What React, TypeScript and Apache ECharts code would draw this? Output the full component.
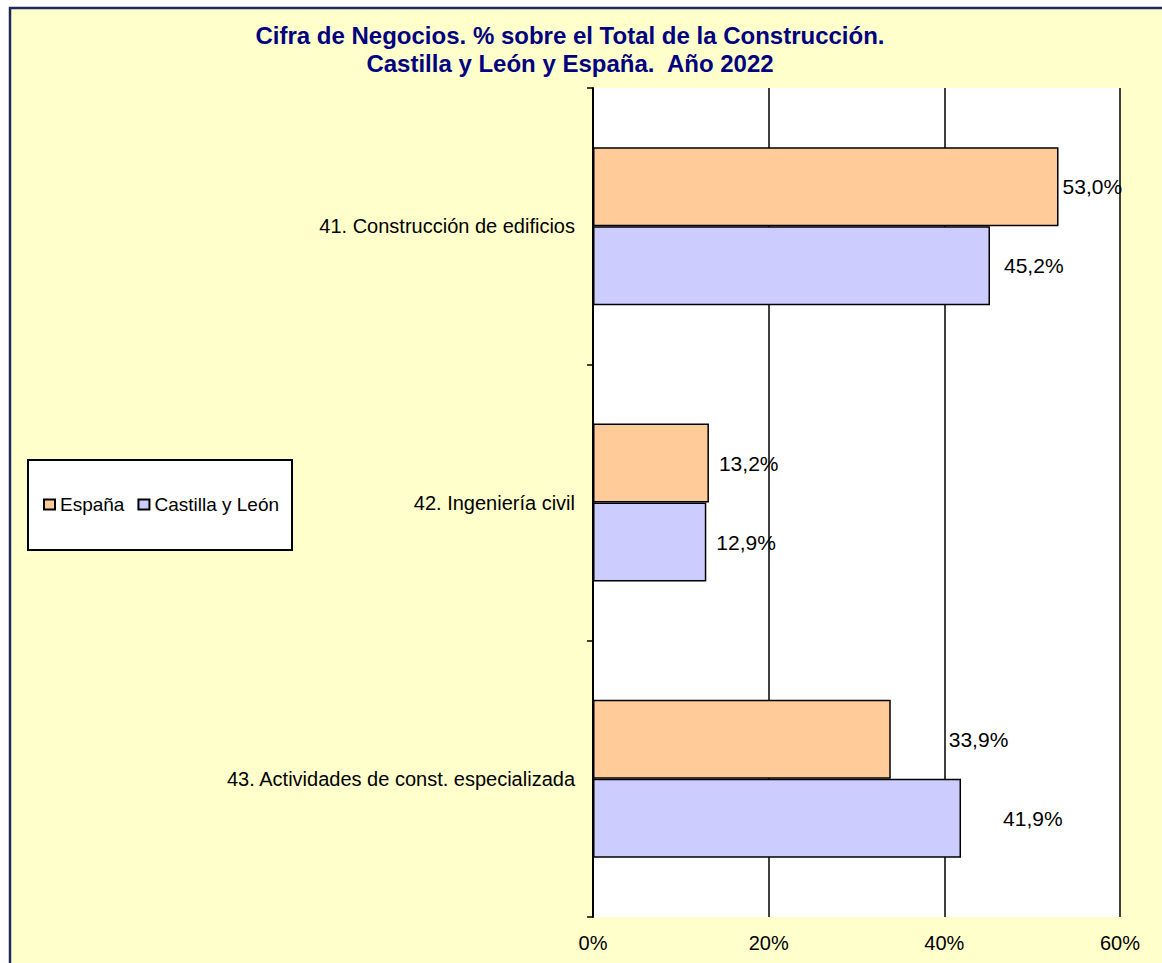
import React, { useEffect, useRef } from "react";
import * as echarts from "echarts";

const categories = [
  "41. Construcción de edificios",
  "42. Ingeniería civil",
  "43. Actividades de const. especializada",
];
const seriesNames = ["España", "Castilla y León"];
const espana = [53.0, 13.2, 33.9];
const castillaLeon = [45.2, 12.9, 41.9];
const xTicks = [0, 20, 40, 60];

// label distance from bar end (style only)
const labelDistances = [
  [4, 10, 58],
  [14, 10, 42],
];

const FONT = "'Liberation Sans', Arial, sans-serif";

export default function App() {
  const ref = useRef<HTMLDivElement>(null);
  useEffect(() => {
    document.body.style.margin = "0";
    document.body.style.overflow = "hidden";
    const chart = echarts.init(ref.current!, null, { renderer: "svg" });
    const colors = ["#FFCC99", "#CCCCFF"];
    const seriesData = [espana, castillaLeon];
    const option: any = {
      animation: false,
      backgroundColor: "#ffffff",
      textStyle: { fontFamily: FONT },
      title: {
        text: "Cifra de Negocios. % sobre el Total de la Construcción.\nCastilla y León y España.  Año 2022",
        left: 570,
        top: 21,
        textAlign: "center",
        padding: 0,
        textStyle: {
          fontFamily: FONT,
          fontSize: 24,
          fontWeight: "bold",
          color: "#000080",
          lineHeight: 28,
        },
      },
      graphic: [
        {
          type: "rect",
          z: -100,
          silent: true,
          shape: { x: 10, y: 8, width: 1200, height: 1000 },
          style: { fill: "#FFFFCC", stroke: "#1F2A5C", lineWidth: 2.5 },
        },
        {
          type: "rect",
          z: 1,
          silent: true,
          shape: { x: 28, y: 460, width: 264, height: 90 },
          style: { fill: "#ffffff", stroke: "#000000", lineWidth: 2 },
        },
      ],
      legend: {
        left: 43,
        top: 495,
        padding: 0,
        itemWidth: 11,
        itemHeight: 10,
        itemGap: 13,
        icon: "rect",
        z: 10,
        data: seriesNames,
        textStyle: { fontFamily: FONT, fontSize: 19, color: "#000" },
      },
      grid: {
        left: 593,
        right: 42,
        top: 88,
        bottom: 46,
        show: true,
        backgroundColor: "#ffffff",
        borderWidth: 0,
        containLabel: false,
      },
      xAxis: {
        type: "value",
        min: xTicks[0],
        max: xTicks[xTicks.length - 1],
        interval: 20,
        axisLine: { show: false },
        axisTick: { show: false },
        splitLine: { show: true, lineStyle: { color: "#000", width: 1.5 } },
        axisLabel: {
          margin: 16,
          fontFamily: FONT,
          fontSize: 20,
          color: "#000",
          formatter: (v: number) => v + "%",
        },
      },
      yAxis: {
        type: "category",
        inverse: true,
        data: categories,
        axisLine: { show: true, lineStyle: { color: "#000", width: 2 } },
        axisTick: { show: true, length: 6, lineStyle: { color: "#000", width: 1.5 } },
        axisLabel: { margin: 18, fontFamily: FONT, fontSize: 20, color: "#000" },
      },
      series: seriesNames.map((name, si) => ({
        name,
        type: "bar",
        barWidth: 79,
        barGap: "0%",
        itemStyle: { color: colors[si], borderColor: "#000", borderWidth: 1.5 },
        label: {
          show: true,
          position: "right",
          fontFamily: FONT,
          fontSize: 21,
          color: "#000",
          formatter: (p: any) => Number(p.value).toFixed(1).replace(".", ",") + "%",
        },
        data: seriesData[si].map((v, i) => ({
          value: v,
          label: { distance: labelDistances[si][i] },
        })),
      })),
    };
    chart.setOption(option);
    return () => chart.dispose();
  }, []);
  return <div ref={ref} style={{ width: 1162, height: 963 }} />;
}
